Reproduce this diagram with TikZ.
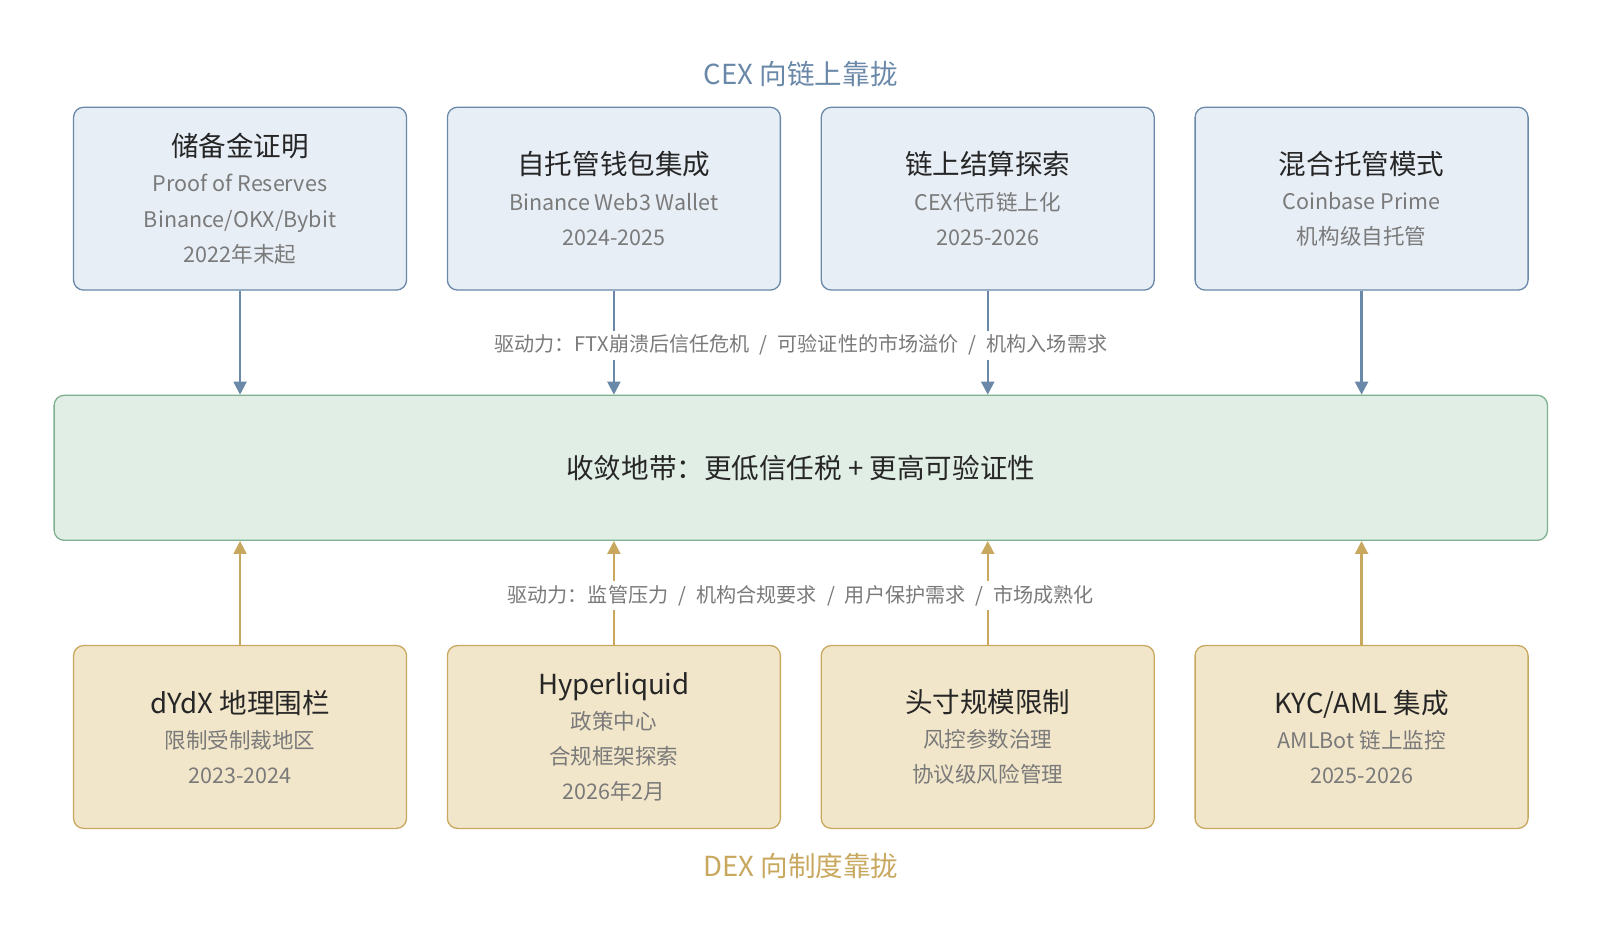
\documentclass[tikz,border=0pt]{standalone}
\usepackage{fontspec}
\setmainfont{Noto Sans CJK SC}
\usetikzlibrary{positioning,arrows.meta}
\definecolor{cexline}{HTML}{6A88A8}
\definecolor{cexfill}{HTML}{E7EEF6}
\definecolor{dexline}{HTML}{C8A85E}
\definecolor{dexfill}{HTML}{F2E6CA}
\definecolor{midline}{HTML}{7FB08F}
\definecolor{midfill}{HTML}{E1EEE5}
\definecolor{subgray}{HTML}{7A7A7A}
\tikzset{
  box/.style={draw, rounded corners=7pt, line width=0.9pt, minimum width=8.15cm, minimum height=4.475cm, align=center, font=\fontsize{15}{24.5}\selectfont, text=subgray},
  cex/.style={box, draw=cexline, fill=cexfill},
  dex/.style={box, draw=dexline, fill=dexfill},
  drv/.style={fill=white, inner sep=3pt, font=\fontsize{14}{16}\selectfont, text=subgray},
}
\newcommand{\hd}[1]{{\fontsize{19.2}{33}\selectfont\color{black!85}#1}}
\newcommand{\sep}{\hspace{0.5em}/\hspace{0.5em}}
\begin{document}
\begin{tikzpicture}
  \useasboundingbox (0,0.49) rectangle (39.16,23.4);
  % Titles
  \node[text=cexline, font=\fontsize{19.2}{22}\selectfont] (tc) at (19.6,21.6) {CEX 向链上靠拢};
  \node[text=dexline, font=\fontsize{19.2}{22}\selectfont] (td) at (19.6,2.2) {DEX 向制度靠拢};
  % Top row
  \node[cex] (c1) at (5.875,18.5375) {\hd{储备金证明}\\Proof of Reserves\\Binance/OKX/Bybit\\2022年末起};
  \node[cex] (c2) at (15.025,18.5375) {\hd{自托管钱包集成}\\Binance Web3 Wallet\\2024-2025};
  \node[cex] (c3) at (24.175,18.5375) {\hd{链上结算探索}\\CEX代币链上化\\2025-2026};
  \node[cex] (c4) at (33.325,18.5375) {\hd{混合托管模式}\\Coinbase Prime\\机构级自托管};
  % Middle
  \node[draw=midline, fill=midfill, rounded corners=7pt, line width=0.9pt, minimum width=36.55cm, minimum height=3.55cm, font=\fontsize{19.2}{22}\selectfont, text=black!85] (m) at (19.6,11.95) {收敛地带：更低信任税 + 更高可验证性};
  % Bottom row
  \node[dex] (d1) at (5.875,5.3625) {\hd{dYdX 地理围栏}\\限制受制裁地区\\2023-2024};
  \node[dex] (d2) at (15.025,5.3625) {\hd{Hyperliquid}\\政策中心\\合规框架探索\\2026年2月};
  \node[dex] (d3) at (24.175,5.3625) {\hd{头寸规模限制}\\风控参数治理\\协议级风险管理};
  \node[dex] (d4) at (33.325,5.3625) {\hd{KYC/AML 集成}\\AMLBot 链上监控\\2025-2026};
  % Arrows
  \foreach \i in {1,...,4} {
    \draw[-{Triangle[length=9pt,width=9pt]}, cexline, line width=1.6pt] (c\i.south) -- (c\i.south |- m.north);
    \draw[-{Triangle[length=9pt,width=9pt]}, dexline, line width=1.6pt] (d\i.north) -- (d\i.north |- m.south);
  }
  % Drivers
  \node[drv] (dc) at (19.6,14.95) {驱动力：FTX崩溃后信任危机\sep 可验证性的市场溢价\sep 机构入场需求};
  \node[drv] (dd) at (19.6,8.825) {驱动力：监管压力\sep 机构合规要求\sep 用户保护需求\sep 市场成熟化};
\end{tikzpicture}
\end{document}
